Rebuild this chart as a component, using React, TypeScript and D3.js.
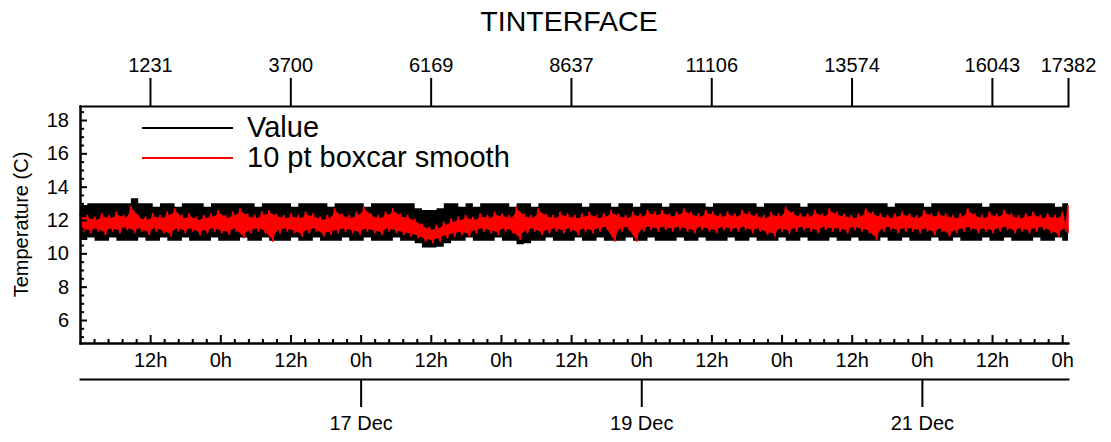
import React, { useEffect, useRef } from 'react';
import * as d3 from 'd3';

// samples are summarised in bins of 128 points (min / max per bin)
const BIN_SIZE = 128;
const LAST_INDEX = 17382;
const SAMPLE_SECONDS = 35;
const START_TIME = Date.UTC(2010, 11, 15, 0, 0, 0);

const indexTicks = [1231, 3700, 6169, 8637, 11106, 13574, 16043, 17382];
const tempTicks = [6, 8, 10, 12, 14, 16, 18];
const dateTickDays = [17, 19, 21];

// raw value envelope (black)
const valueHigh = [
  12.9, 13.0, 13.0, 13.0, 13.0, 13.0, 13.0, 13.3, 13.0, 13.0,
  12.8, 13.0, 13.0, 12.8, 13.0, 13.0, 13.0, 12.8, 13.0, 13.0,
  13.0, 13.0, 13.0, 13.0, 12.8, 13.0, 13.0, 13.0, 13.0, 12.8,
  13.0, 13.0, 13.0, 13.0, 12.8, 13.0, 13.0, 13.0, 13.0, 12.8,
  13.0, 13.0, 13.0, 13.0, 13.0, 13.0, 12.7, 12.6, 12.6, 12.7,
  13.0, 13.0, 12.8, 13.0, 12.8, 13.0, 13.0, 13.0, 13.0, 12.8,
  13.0, 13.0, 12.8, 13.0, 13.0, 13.0, 13.0, 13.0, 13.0, 12.8,
  13.0, 13.0, 13.0, 12.8, 13.0, 13.0, 12.8, 13.0, 13.0, 13.0,
  12.8, 13.0, 13.0, 13.0, 13.0, 13.0, 12.8, 13.0, 13.0, 13.0,
  13.0, 13.0, 13.0, 12.8, 13.0, 13.0, 13.0, 13.0, 13.0, 12.8,
  13.0, 13.0, 13.0, 13.0, 13.0, 13.0, 13.0, 13.0, 13.0, 13.0,
  13.0, 12.8, 13.0, 13.0, 13.0, 13.0, 12.8, 13.0, 13.0, 13.0,
  13.0, 13.0, 13.0, 13.0, 12.8, 13.0, 13.0, 13.0, 13.0, 13.0,
  13.0, 13.0, 13.0, 13.0, 12.8, 13.0, 13.0,
];

const valueLow = [
  10.8, 10.95, 10.75, 10.75, 10.95, 10.75, 10.75, 10.75, 10.95, 10.75,
  10.75, 10.95, 10.75, 10.75, 10.95, 10.75, 10.75, 10.75, 10.95, 10.75,
  10.75, 10.75, 10.95, 10.75, 10.75, 10.95, 10.75, 10.75, 10.75, 10.95,
  10.75, 10.75, 10.95, 10.75, 10.75, 10.75, 10.95, 10.75, 10.75, 10.95,
  10.75, 10.75, 10.75, 10.95, 10.75, 10.75, 10.6, 10.35, 10.35, 10.4,
  10.6, 10.75, 10.75, 10.95, 10.75, 10.75, 10.75, 10.95, 10.75, 10.75,
  10.55, 10.6, 10.75, 10.75, 10.95, 10.75, 10.75, 10.75, 10.95, 10.75,
  10.75, 10.95, 10.75, 10.75, 10.75, 10.95, 10.75, 10.75, 10.95, 10.75,
  10.75, 10.75, 10.95, 10.75, 10.75, 10.95, 10.75, 10.75, 10.75, 10.95,
  10.75, 10.75, 10.95, 10.75, 10.75, 10.75, 10.95, 10.75, 10.75, 10.95,
  10.75, 10.75, 10.75, 10.95, 10.75, 10.75, 10.95, 10.75, 10.75, 10.75,
  10.95, 10.75, 10.75, 10.95, 10.75, 10.75, 10.75, 10.95, 10.75, 10.75,
  10.95, 10.75, 10.75, 10.75, 10.95, 10.75, 10.75, 10.95, 10.75, 10.75,
  10.75, 10.95, 10.75, 10.75, 10.95, 10.75, 10.75,
];

// 10 pt boxcar smooth envelope (red)
const smoothHigh = [
  12.4, 12.3, 12.2, 12.4, 12.3, 12.5, 12.3, 12.85, 12.3, 12.2,
  12.4, 12.3, 12.5, 12.7, 12.3, 12.4, 12.2, 12.3, 12.4, 12.6,
  12.3, 12.5, 12.7, 12.4, 12.3, 12.5, 12.6, 12.4, 12.3, 12.4,
  12.3, 12.5, 12.4, 12.2, 12.3, 12.7, 12.4, 12.3, 12.5, 12.8,
  12.4, 12.3, 12.5, 12.7, 12.4, 12.3, 12.1, 11.8, 11.6, 11.7,
  11.9, 12.1, 12.2, 12.3, 12.2, 12.4, 12.3, 12.5, 12.4, 12.3,
  12.8, 12.4, 12.3, 12.7, 12.4, 12.3, 12.5, 12.4, 12.3, 12.4,
  12.5, 12.3, 12.4, 12.6, 12.4, 12.3, 12.5, 12.4, 12.6, 12.5,
  12.6, 12.4, 12.5, 12.7, 12.5, 12.4, 12.6, 12.5, 12.4, 12.5,
  12.4, 12.6, 12.5, 12.4, 12.3, 12.5, 12.4, 12.8, 12.5, 12.4,
  12.4, 12.6, 12.4, 12.7, 12.5, 12.4, 12.3, 12.4, 12.7, 12.5,
  12.4, 12.3, 12.4, 12.5, 12.4, 12.3, 12.6, 12.4, 12.5, 12.4,
  12.3, 12.4, 12.7, 12.4, 12.3, 12.5, 12.4, 12.6, 12.4, 12.3,
  12.4, 12.5, 12.3, 12.4, 12.3, 12.5, 12.9,
];

const smoothLow = [
  11.3, 11.2, 11.3, 11.1, 11.3, 11.2, 11.4, 11.2, 11.3, 11.1,
  11.3, 11.2, 11.0, 11.3, 11.2, 11.3, 11.1, 11.2, 11.3, 11.2,
  11.1, 11.3, 10.9, 11.2, 11.3, 11.2, 10.7, 11.2, 11.3, 11.2,
  11.0, 11.2, 11.3, 11.0, 11.1, 11.2, 11.3, 11.2, 11.1, 11.3,
  11.2, 11.1, 11.3, 11.2, 11.1, 11.0, 10.9, 10.7, 10.6, 10.7,
  10.9, 11.0, 11.1, 11.0, 11.2, 11.3, 11.2, 11.1, 11.3, 11.2,
  10.8, 11.2, 11.3, 11.1, 11.2, 11.3, 11.2, 11.3, 11.1, 11.3,
  11.2, 11.3, 11.4, 10.7, 11.3, 11.4, 10.7, 11.3, 11.4, 11.3,
  11.4, 11.3, 11.4, 11.3, 11.2, 11.4, 11.3, 11.2, 11.4, 11.3,
  11.3, 11.4, 11.2, 11.3, 11.1, 11.0, 11.3, 11.2, 11.3, 11.4,
  11.3, 11.2, 11.4, 11.3, 11.3, 11.2, 11.4, 11.3, 11.2, 10.8,
  11.3, 11.4, 11.2, 11.3, 11.3, 11.2, 11.3, 11.1, 11.3, 11.0,
  11.2, 11.3, 11.4, 11.2, 11.3, 11.2, 11.3, 11.4, 11.2, 11.3,
  11.2, 11.3, 11.4, 11.2, 11.0, 11.3, 11.2,
];

const FONT = '"Liberation Sans", Arial, Helvetica, sans-serif';

const binIndex = (i: number) => Math.min(i * BIN_SIZE, LAST_INDEX);

const App: React.FC = () => {
  const svgRef = useRef<SVGSVGElement>(null);

  useEffect(() => {
    if (!svgRef.current) return;
    const svg = d3.select(svgRef.current);
    svg.selectAll('*').remove();

    const left = 80, right = 1068, top = 106, bottom = 343;

    const x = d3.scaleLinear().domain([0, LAST_INDEX]).range([left, right]);
    const y = d3.scaleLinear().domain([4.62, 18.84]).range([bottom, top]);
    const endTime = START_TIME + LAST_INDEX * SAMPLE_SECONDS * 1000;
    const t = d3.scaleUtc().domain([new Date(START_TIME), new Date(endTime)]).range([left, right]);

    // black value band
    const band = d3.area<number>()
      .x((_, i) => x(binIndex(i)))
      .y0((_, i) => y(valueLow[i]))
      .y1((d) => y(d))
      .curve(d3.curveStepAfter);

    svg.append('path')
      .datum(valueHigh)
      .attr('fill', '#000')
      .attr('d', band);

    // red smoothed series: solid core plus min/max zigzag per bin
    const core = d3.area<number>()
      .x((_, i) => x(binIndex(i) + BIN_SIZE / 4))
      .y0((_, i) => y(smoothLow[i] + 0.2))
      .y1((d) => y(d - 0.2));

    svg.append('path')
      .datum(smoothHigh.slice(0, -1))
      .attr('fill', '#ff0000')
      .attr('d', core);

    const smoothPts: [number, number][] = [];
    smoothHigh.forEach((hi, i) => {
      const i0 = binIndex(i);
      const i1 = Math.min(i0 + BIN_SIZE / 2, LAST_INDEX);
      smoothPts.push([i0, hi]);
      smoothPts.push([i1, smoothLow[i]]);
    });
    const line = d3.line<[number, number]>()
      .x((d) => x(d[0]))
      .y((d) => y(d[1]));

    svg.append('path')
      .datum(smoothPts)
      .attr('fill', 'none')
      .attr('stroke', '#ff0000')
      .attr('stroke-width', 1.6)
      .attr('d', line);

    const styleAxis = (g: d3.Selection<SVGGElement, unknown, null, undefined>) => {
      g.attr('font-family', FONT).attr('font-size', 20);
      g.selectAll('path.domain').attr('stroke-width', 2).attr('stroke-linecap', 'square');
      g.selectAll('line').attr('stroke-width', 2);
      g.selectAll('text').attr('fill', '#000');
    };

    // top index axis
    svg.append('g')
      .attr('transform', `translate(0,${top})`)
      .call(d3.axisTop(x).tickValues(indexTicks).tickSize(28).tickSizeOuter(0).tickPadding(6).tickFormat((d) => `${d}`))
      .call(styleAxis);

    // left temperature axis
    const minorTemps = d3.range(5, 18.51, 0.5).filter((v) => !tempTicks.includes(v));
    svg.append('g')
      .attr('transform', `translate(${left},0)`)
      .call(d3.axisLeft(y).tickValues(minorTemps).tickSize(-4).tickSizeOuter(0).tickFormat(() => ''))
      .call(styleAxis);
    svg.append('g')
      .attr('transform', `translate(${left},0)`)
      .call(d3.axisLeft(y).tickValues(tempTicks).tickSize(-7).tickSizeOuter(0).tickPadding(11))
      .call(styleAxis);

    // bottom hour axis
    const startDate = new Date(START_TIME);
    const endDate = new Date(endTime);
    const hourMajor = d3.utcHour.every(12)!.range(new Date(START_TIME + 1), endDate);
    const hourMinor = d3.range(START_TIME, endTime, 2.4 * 3600 * 1000)
      .map((ms) => new Date(ms))
      .filter((d) => d.getUTCHours() % 12 !== 0 || d.getUTCMinutes() !== 0);
    svg.append('g')
      .attr('transform', `translate(0,${bottom})`)
      .call(d3.axisBottom(t).tickValues(hourMinor).tickSize(-4).tickSizeOuter(0).tickFormat(() => ''))
      .call(styleAxis);
    svg.append('g')
      .attr('transform', `translate(0,${bottom})`)
      .call(d3.axisBottom(t).tickValues(hourMajor).tickSize(-8).tickSizeOuter(0).tickPadding(10)
        .tickFormat((d) => d3.utcFormat('%-Hh')(d as Date)))
      .call(styleAxis);

    // date axis
    const dateTicks = dateTickDays.map((day) => new Date(Date.UTC(startDate.getUTCFullYear(), 11, day)));
    svg.append('g')
      .attr('transform', 'translate(0,379)')
      .call(d3.axisBottom(t).tickValues(dateTicks).tickSize(28).tickSizeOuter(0).tickPadding(9)
        .tickFormat((d) => d3.utcFormat('%-d %b')(d as Date)))
      .call(styleAxis);

    // title
    svg.append('text')
      .attr('x', 569)
      .attr('y', 31)
      .attr('text-anchor', 'middle')
      .attr('font-family', FONT)
      .attr('font-size', 28.5)
      .text('TINTERFACE');

    // y axis label
    svg.append('text')
      .attr('transform', `translate(28,${(top + bottom) / 2}) rotate(-90)`)
      .attr('text-anchor', 'middle')
      .attr('font-family', FONT)
      .attr('font-size', 20)
      .text('Temperature (C)');

    // legend
    const legendItems = [
      { label: 'Value', color: '#000' },
      { label: '10 pt boxcar smooth', color: '#ff0000' },
    ];
    const legend = svg.append('g');
    legendItems.forEach((item, i) => {
      const ly = 128 + i * 30;
      legend.append('line')
        .attr('x1', 142)
        .attr('x2', 233)
        .attr('y1', ly)
        .attr('y2', ly)
        .attr('stroke', item.color)
        .attr('stroke-width', 2);
      legend.append('text')
        .attr('x', 247)
        .attr('y', ly + 9)
        .attr('font-family', FONT)
        .attr('font-size', 29)
        .text(item.label);
    });
  }, []);

  return (
    <svg
      ref={svgRef}
      width={1111}
      height={442}
      style={{ position: 'absolute', left: 0, top: 0, background: '#fff' }}
    />
  );
};

export default App;
